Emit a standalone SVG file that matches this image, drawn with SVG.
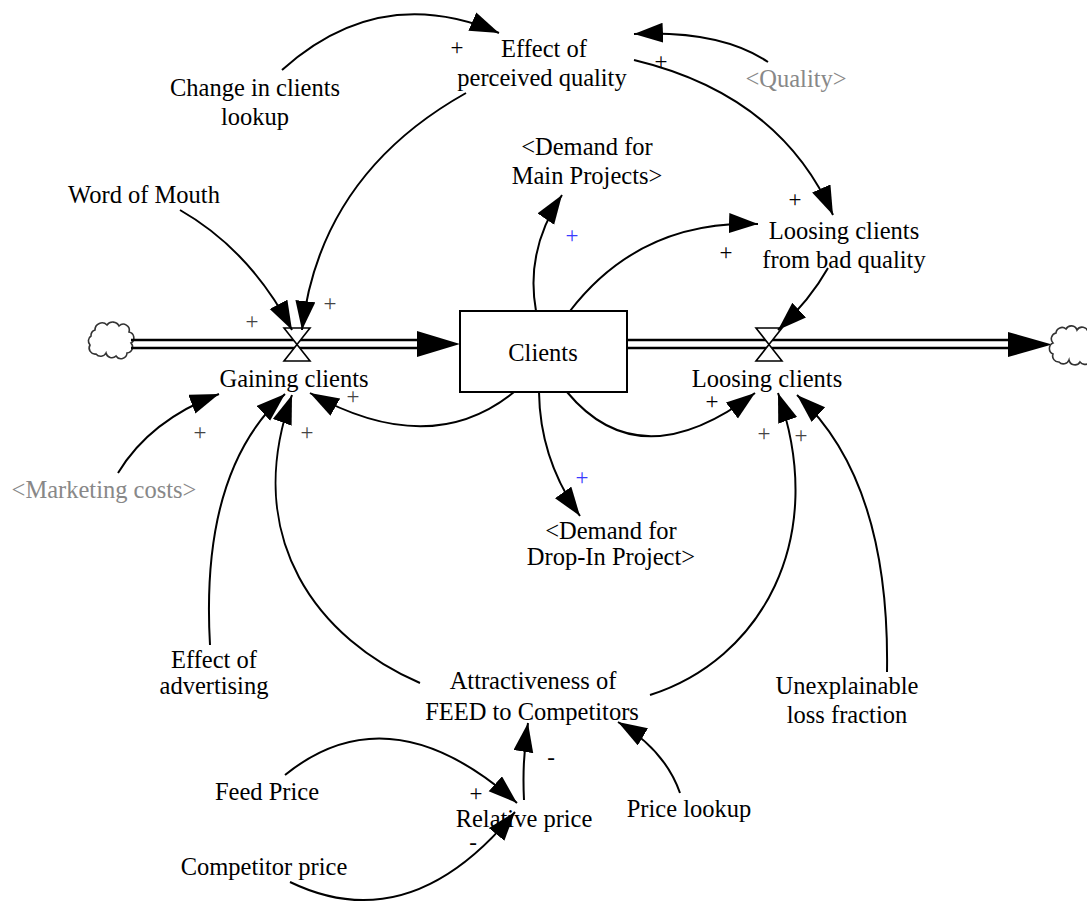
<svg xmlns="http://www.w3.org/2000/svg" width="1087" height="907" viewBox="0 0 1087 907">
  <defs>
    <marker id="arrow" markerUnits="userSpaceOnUse" markerWidth="32" markerHeight="22" refX="29" refY="10" orient="auto">
      <path d="M0,0 L29,10 L0,20 z" fill="#000"/>
    </marker>
    <style>
      text { font-family: "Liberation Serif", "Times New Roman", serif; font-size: 24.5px; fill: #000; text-anchor: middle; }
      .shadow { fill: #888; }
      .pol { font-size: 23px; }
      .polg { font-size: 23px; fill: #444; }
      .polb { font-size: 23px; fill: #3a3aff; }
      .link { fill: none; stroke: #000; stroke-width: 2; marker-end: url(#arrow); }
      .pipe { stroke: #000; stroke-width: 2.5; }
      .valve { fill: #fff; stroke: #000; stroke-width: 1.6; }
      .cloud { fill: #fff; stroke: #333; stroke-width: 1.6; }
    </style>
  </defs>
  <rect width="1087" height="907" fill="#fff"/>

  <!-- material flows: source cloud, pipes, sink cloud -->
  <g id="flows">
    <path class="cloud" d="M95,330 a7,7 0 0 1 12,-5 a7,7 0 0 1 12,1 a6,6 0 0 1 10,6 a6,6 0 0 1 2,11 a6,6 0 0 1 -4,10 a6,6 0 0 1 -11,3 a6,6 0 0 1 -10,-3 a6,6 0 0 1 -10,1 a6,6 0 0 1 -6,-9 a6,6 0 0 1 1,-9 a6,6 0 0 1 4,-6 z"/>
    <line class="pipe" x1="131" y1="340" x2="420" y2="340"/>
    <line class="pipe" x1="131" y1="348" x2="420" y2="348"/>
    <polygon points="417,331 460,344 417,357" fill="#000"/>
    <line class="pipe" x1="627" y1="340" x2="1010" y2="340"/>
    <line class="pipe" x1="627" y1="348" x2="1010" y2="348"/>
    <polygon points="1008,332 1052,344.5 1008,357" fill="#000"/>
    <path class="cloud" d="M1056,333 a6,6 0 0 1 10,-4 a6,6 0 0 1 11,1 a6,6 0 0 1 11,2 a6,6 0 0 1 7,10 a6,6 0 0 1 -5,12 a6,6 0 0 1 -10,8 a6,6 0 0 1 -11,-2 a6,6 0 0 1 -10,2 a6,6 0 0 1 -6,-8 a6,6 0 0 1 0,-11 a6,6 0 0 1 3,-10 z"/>
  </g>

  <g id="clients">
    <rect x="460" y="311" width="167" height="81" fill="#fff" stroke="#000" stroke-width="2"/>
    <text x="543" y="361">Clients</text>
  </g>

  <g id="gaining-clients">
    <polygon class="valve" points="284,328 310,328 297,344.5"/>
    <polygon class="valve" points="297,344.5 284,361 310,361"/>
    <text x="294" y="387">Gaining clients</text>
  </g>

  <g id="loosing-clients">
    <polygon class="valve" points="756,328 782,328 769,344.5"/>
    <polygon class="valve" points="769,344.5 756,361 782,361"/>
    <text x="767" y="387">Loosing clients</text>
  </g>

  <g id="effect-of-perceived-quality">
    <text x="544" y="57">Effect of</text>
    <text x="542" y="86">perceived quality</text>
  </g>

  <g id="change-in-clients-lookup">
    <text x="255" y="96">Change in clients</text>
    <text x="255" y="125">lookup</text>
  </g>

  <g id="quality">
    <text class="shadow" x="796" y="87">&lt;Quality&gt;</text>
  </g>

  <g id="demand-main-projects">
    <text x="587" y="155">&lt;Demand for</text>
    <text x="587" y="184">Main Projects&gt;</text>
  </g>

  <g id="word-of-mouth">
    <text x="144" y="203">Word of Mouth</text>
  </g>

  <g id="loosing-clients-bad-quality">
    <text x="844" y="239">Loosing clients</text>
    <text x="844" y="268">from bad quality</text>
  </g>

  <g id="marketing-costs">
    <text class="shadow" x="104" y="498">&lt;Marketing costs&gt;</text>
  </g>

  <g id="demand-drop-in-project">
    <text x="611" y="539">&lt;Demand for</text>
    <text x="611" y="565">Drop-In Project&gt;</text>
  </g>

  <g id="effect-of-advertising">
    <text x="214" y="668">Effect of</text>
    <text x="214" y="694">advertising</text>
  </g>

  <g id="attractiveness">
    <text x="533" y="689">Attractiveness of</text>
    <text x="532" y="720">FEED to Competitors</text>
  </g>

  <g id="unexplainable-loss-fraction">
    <text x="847" y="694">Unexplainable</text>
    <text x="847" y="723">loss fraction</text>
  </g>

  <g id="feed-price">
    <text x="267" y="800">Feed Price</text>
  </g>

  <g id="relative-price">
    <text x="524" y="827">Relative price</text>
  </g>

  <g id="price-lookup">
    <text x="689" y="817">Price lookup</text>
  </g>

  <g id="competitor-price">
    <text x="264" y="875">Competitor price</text>
  </g>

  <!-- causal links -->
  <g id="connectors">
    <path class="link" d="M282,70 Q380,-18 499,33"/>
    <path class="link" d="M768,62 Q720,30 634,34"/>
    <path class="link" d="M634,60 Q780,95 833,215"/>
    <path class="link" d="M466,93 Q320,175 302,330"/>
    <path class="link" d="M180,210 Q250,250 292,330"/>
    <path class="link" d="M536,311 Q525,250 562,195"/>
    <path class="link" d="M570,311 Q640,220 758,224"/>
    <path class="link" d="M828,268 Q810,300 778,330"/>
    <path class="link" d="M514,392 Q430,460 310,393"/>
    <path class="link" d="M539,392 Q540,460 580,516"/>
    <path class="link" d="M567,392 Q640,480 755,393"/>
    <path class="link" d="M118,473 Q150,420 219,394"/>
    <path class="link" d="M210,645 Q200,470 285,394"/>
    <path class="link" d="M420,683 C320,640 240,540 292,395"/>
    <path class="link" d="M650,695 C760,660 830,540 778,393"/>
    <path class="link" d="M887,672 Q890,480 797,395"/>
    <path class="link" d="M285,775 Q390,690 517,803"/>
    <path class="link" d="M290,882 Q410,940 515,812"/>
    <path class="link" d="M524,800 Q522,760 528,723"/>
    <path class="link" d="M680,793 Q665,750 618,722"/>
  </g>

  <!-- link polarities -->
  <g id="polarities">
    <text class="pol" x="457" y="55">+</text>
    <text class="pol" x="661" y="69">+</text>
    <text class="pol" x="795" y="207">+</text>
    <text class="pol" x="726" y="260">+</text>
    <text class="polb" x="572" y="243">+</text>
    <text class="polg" x="252" y="329">+</text>
    <text class="polg" x="330" y="311">+</text>
    <text class="polg" x="353" y="404">+</text>
    <text class="polg" x="200" y="440">+</text>
    <text class="polg" x="307" y="440">+</text>
    <text class="polb" x="582" y="485">+</text>
    <text class="pol" x="712" y="409">+</text>
    <text class="polg" x="764" y="441">+</text>
    <text class="polg" x="801" y="443">+</text>
    <text class="pol" x="551" y="765">-</text>
    <text class="pol" x="476" y="801">+</text>
    <text class="pol" x="473" y="850">-</text>
  </g>
</svg>
